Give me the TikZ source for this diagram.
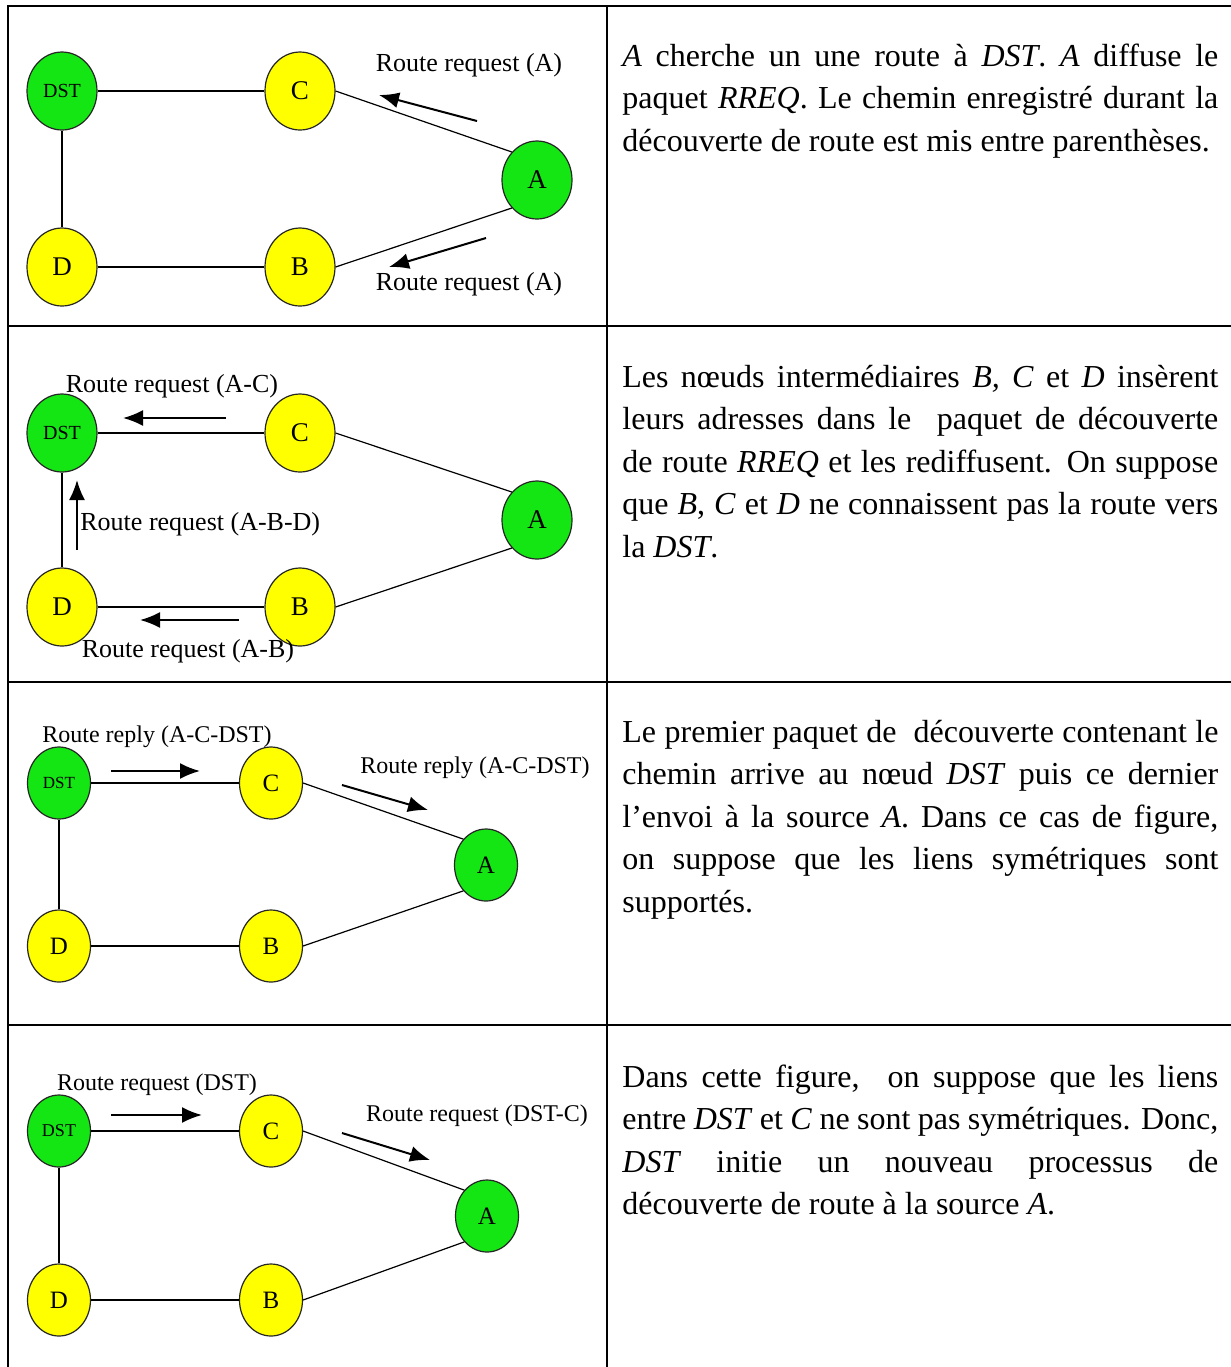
\documentclass[tikz,border=0pt]{standalone}
\usepackage{fontspec}
\setmainfont{Liberation Serif}
\usetikzlibrary{shapes.geometric,arrows.meta}
\definecolor{vertnoeud}{RGB}{20,230,20}
\definecolor{jaunenoeud}{RGB}{255,255,0}

\begin{document}
\begin{tikzpicture}[x=0.5pt, y=-0.5pt,
  noeud/.style={ellipse, draw=black!85, line width=0.6pt, inner sep=0pt,
    minimum width=35pt, minimum height=39pt, font=\fontsize{13.5}{14}\selectfont},
  petit/.style={minimum width=31.5pt, minimum height=36pt, font=\fontsize{12.5}{13}\selectfont},
  src/.style={noeud, fill=vertnoeud},
  inter/.style={noeud, fill=jaunenoeud},
  dst/.style={src, font=\fontsize{10}{11}\selectfont},
  lien/.style={line width=0.7pt},
  fleche/.style={line width=1pt, -{Latex[length=10pt,width=8pt]}},
  etiq/.style={inner sep=0pt, font=\fontsize{13}{15}\selectfont},
  etiqp/.style={inner sep=0pt, font=\fontsize{12}{14}\selectfont},
  texte/.style={anchor=base west, inner sep=0pt, text width=298pt, align=justify,
    font=\fontsize{16}{21.25}\selectfont},
  cadre/.style={line width=1pt}]
\useasboundingbox (0,0) rectangle (1231,1367);

% tableau
\draw[cadre] (8,1367) -- (8,6) -- (1231,6);
\draw[cadre] (607,6) -- (607,1367);
\foreach \y in {326,682,1025}
  \draw[cadre] (8,\y) -- (1231,\y);

% ligne 1
\node[dst] (DST1) at (62,91) {DST};
\node[inter] (C1) at (300,91) {C};
\node[src] (A1) at (537,180) {A};
\node[inter] (D1) at (62,267) {D};
\node[inter] (B1) at (300,267) {B};
\node[etiq] (lab1a) at (469,65) {Route request (A)};
\node[etiq] (lab1b) at (469,284) {Route request (A)};
\coordinate (q1a) at (477,121); \coordinate (p1a) at (379,95);
\coordinate (q1b) at (486,238); \coordinate (p1b) at (389,267);
\draw[fleche] (q1a) -- (p1a);
\draw[fleche] (q1b) -- (p1b);

% ligne 2
\node[dst] (DST2) at (62,433) {DST};
\node[inter] (C2) at (300,433) {C};
\node[src] (A2) at (537,520) {A};
\node[inter] (D2) at (62,607) {D};
\node[inter] (B2) at (300,607) {B};
\node[etiq] (lab2a) at (172,386) {Route request (A-C)};
\node[etiq, anchor=west] (lab2b) at (80,524) {Route request (A-B-D)};
\node[etiq] (lab2c) at (188,651) {Route request (A-B)};
\coordinate (q2a) at (226,418); \coordinate (p2a) at (123,418);
\coordinate (q2b) at (77,550); \coordinate (p2b) at (77,480);
\coordinate (q2c) at (239,620); \coordinate (p2c) at (140,620);
\draw[fleche] (q2a) -- (p2a);
\draw[fleche] (q2b) -- (p2b);
\draw[fleche] (q2c) -- (p2c);

% ligne 3
\node[dst, petit, font=\fontsize{8.5}{9}\selectfont] (DST3) at (59,783) {DST};
\node[inter, petit] (C3) at (271,783) {C};
\node[src, petit] (A3) at (486,865) {A};
\node[inter, petit] (D3) at (59,946) {D};
\node[inter, petit] (B3) at (271,946) {B};
\node[etiqp] (lab3a) at (157,737) {Route reply (A-C-DST)};
\node[etiqp] (lab3b) at (475,768) {Route reply (A-C-DST)};
\coordinate (q3a) at (111,771); \coordinate (p3a) at (200,771);
\coordinate (q3b) at (342,785); \coordinate (p3b) at (428,810);
\draw[fleche] (q3a) -- (p3a);
\draw[fleche] (q3b) -- (p3b);

% ligne 4
\node[dst, petit, font=\fontsize{9}{10}\selectfont] (DST4) at (59,1131) {DST};
\node[inter, petit] (C4) at (271,1131) {C};
\node[src, petit] (A4) at (487,1216) {A};
\node[inter, petit] (D4) at (59,1300) {D};
\node[inter, petit] (B4) at (271,1300) {B};
\node[etiqp] (lab4a) at (157,1085) {Route request (DST)};
\node[etiqp] (lab4b) at (477,1116) {Route request (DST-C)};
\coordinate (q4a) at (111,1115); \coordinate (p4a) at (202,1115);
\coordinate (q4b) at (342,1133); \coordinate (p4b) at (430,1160);
\draw[fleche] (q4a) -- (p4a);
\draw[fleche] (q4b) -- (p4b);

% liens
\foreach \i in {1,...,4} {
  \draw[lien] (DST\i.east) -- (C\i.west);
  \draw[lien] (DST\i.south) -- (D\i.north);
  \draw[lien] (D\i.east) -- (B\i.west);
  \draw[lien, line width=0.6pt] (C\i.east) -- (A\i.north west);
  \draw[lien, line width=0.6pt] (B\i.east) -- (A\i.south west);
}

% textes
\node[texte] (txt1) at (622,66) {\textit{A} cherche un une route à \textit{DST}. \textit{A} diffuse le\linebreak
  paquet \textit{RREQ}. Le chemin enregistré durant la\linebreak
  découverte de route est mis entre parenthèses.};
\node[texte] (txt2) at (622,387) {Les nœuds intermédiaires \textit{B, C} et \textit{D} insèrent\linebreak
  leurs adresses dans le \ paquet de découverte\linebreak
  de route \textit{RREQ} et les rediffusent. On suppose\linebreak
  que \textit{B}, \textit{C} et \textit{D} ne connaissent pas la route vers\linebreak
  la \textit{DST}.};
\node[texte] (txt3) at (622,742) {Le premier paquet de \ découverte contenant le\linebreak
  chemin arrive au nœud \textit{DST} puis ce dernier\linebreak
  l’envoi à la source \textit{A}. Dans ce cas de figure,\linebreak
  on suppose que les liens symétriques sont\linebreak
  supportés.};
\node[texte] (txt4) at (622,1087) {Dans cette figure, \ on suppose que les liens\linebreak
  entre \textit{DST} et \textit{C} ne sont pas symétriques. Donc,\linebreak
  \textit{DST} initie un nouveau processus de\linebreak
  découverte de route à la source \textit{A}.};
\end{tikzpicture}
\end{document}
